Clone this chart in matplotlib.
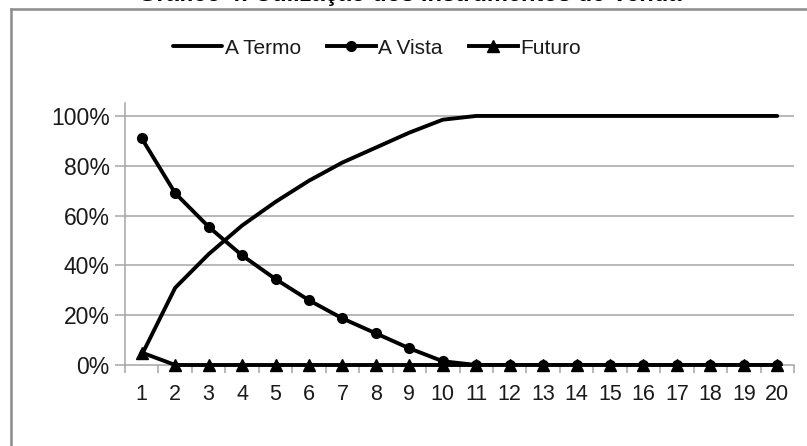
import matplotlib
matplotlib.use("Agg")
import matplotlib.pyplot as plt
from matplotlib.lines import Line2D
from matplotlib.ticker import FixedLocator, FuncFormatter

plt.rcParams['font.family'] = ['Liberation Sans', 'DejaVu Sans']

# Data
periodos = list(range(1, 21))
a_termo = [0.04, 0.31, 0.445, 0.56, 0.655, 0.74, 0.813, 0.873, 0.933, 0.985,
           1.0, 1.0, 1.0, 1.0, 1.0, 1.0, 1.0, 1.0, 1.0, 1.0]
a_vista = [0.91, 0.69, 0.555, 0.44, 0.345, 0.26, 0.187, 0.127, 0.067, 0.015,
           0.0, 0.0, 0.0, 0.0, 0.0, 0.0, 0.0, 0.0, 0.0, 0.0]
futuro = [0.05, 0.0, 0.0, 0.0, 0.0, 0.0, 0.0, 0.0, 0.0, 0.0,
          0.0, 0.0, 0.0, 0.0, 0.0, 0.0, 0.0, 0.0, 0.0, 0.0]
y_ticks = [0.0, 0.2, 0.4, 0.6, 0.8, 1.0]
titulo = "Gráfico 4: Utilização dos Instrumentos de Venda"

W, H = 807, 446
fig = plt.figure(figsize=(W / 100, H / 100), dpi=100)
fig.patch.set_facecolor('white')

# Outer chart frame (left and top edges)
frame_c = '#8c8c8c'
fig.add_artist(Line2D([10.5 / W, 10.5 / W], [0, 1 - 9 / H], transform=fig.transFigure,
                      color=frame_c, lw=1.8))
fig.add_artist(Line2D([10.5 / W, 1], [1 - 9 / H, 1 - 9 / H], transform=fig.transFigure,
                      color=frame_c, lw=1.8))

# Title, running past the top edge of the canvas
fig.text(410 / W, 1 - 0.5 / H, titulo, ha='center', va='baseline', fontsize=17,
         fontweight='bold', color='black')

ax_left, ax_right = 125 / W, 794 / W
ax_bottom, ax_top = 1 - 365 / H, 1 - 103 / H
ax = fig.add_axes([ax_left, ax_bottom, ax_right - ax_left, ax_top - ax_bottom])

ax.set_xlim(0.5, 20.5)
ax.set_ylim(0, 1.052)

grid_c = '#a6a6a6'
for t in y_ticks[1:]:
    ax.axhline(t, color=grid_c, lw=1.1, zorder=1)

lw = 2.8
h1, = ax.plot(periodos, a_termo, color='black', lw=lw, zorder=3, label='A Termo',
              solid_capstyle='round', solid_joinstyle='round')
h2, = ax.plot(periodos, a_vista, color='black', lw=lw, marker='o', ms=7, zorder=4,
              label='A Vista', solid_joinstyle='round')
h3, = ax.plot(periodos, futuro, color='black', lw=lw, marker='^', ms=8, zorder=5,
              label='Futuro', solid_joinstyle='round', clip_on=False)

for s in ['top', 'right']:
    ax.spines[s].set_visible(False)
for s in ['left', 'bottom']:
    ax.spines[s].set_color(grid_c)
    ax.spines[s].set_linewidth(1.1)

ax.yaxis.set_major_locator(FixedLocator(y_ticks))
ax.yaxis.set_major_formatter(FuncFormatter(lambda v, p: f"{v * 100:.0f}%"))
ax.tick_params(axis='y', length=7, width=1.1, color=grid_c, labelsize=16.5,
               labelcolor='#1a1a1a', pad=4)

ax.set_xticks(periodos)
ax.set_xticklabels([str(p) for p in periodos])
ax.set_xticks([p + 0.5 for p in range(0, 21)], minor=True)
ax.tick_params(axis='x', which='major', length=0, labelsize=15.5,
               labelcolor='#1a1a1a', pad=14)
ax.tick_params(axis='x', which='minor', length=6, width=1.1, color=grid_c)

leg = fig.legend(handles=[h1, h2, h3], loc='center',
                 bbox_to_anchor=(377 / W, 1 - 48 / H), ncol=3, frameon=False,
                 fontsize=15, handlelength=2.35, handletextpad=0.12,
                 columnspacing=1.25, numpoints=1, borderpad=0)
for t in leg.get_texts():
    t.set_color('#1a1a1a')

fig.savefig('out.png', dpi=100, facecolor='white')
